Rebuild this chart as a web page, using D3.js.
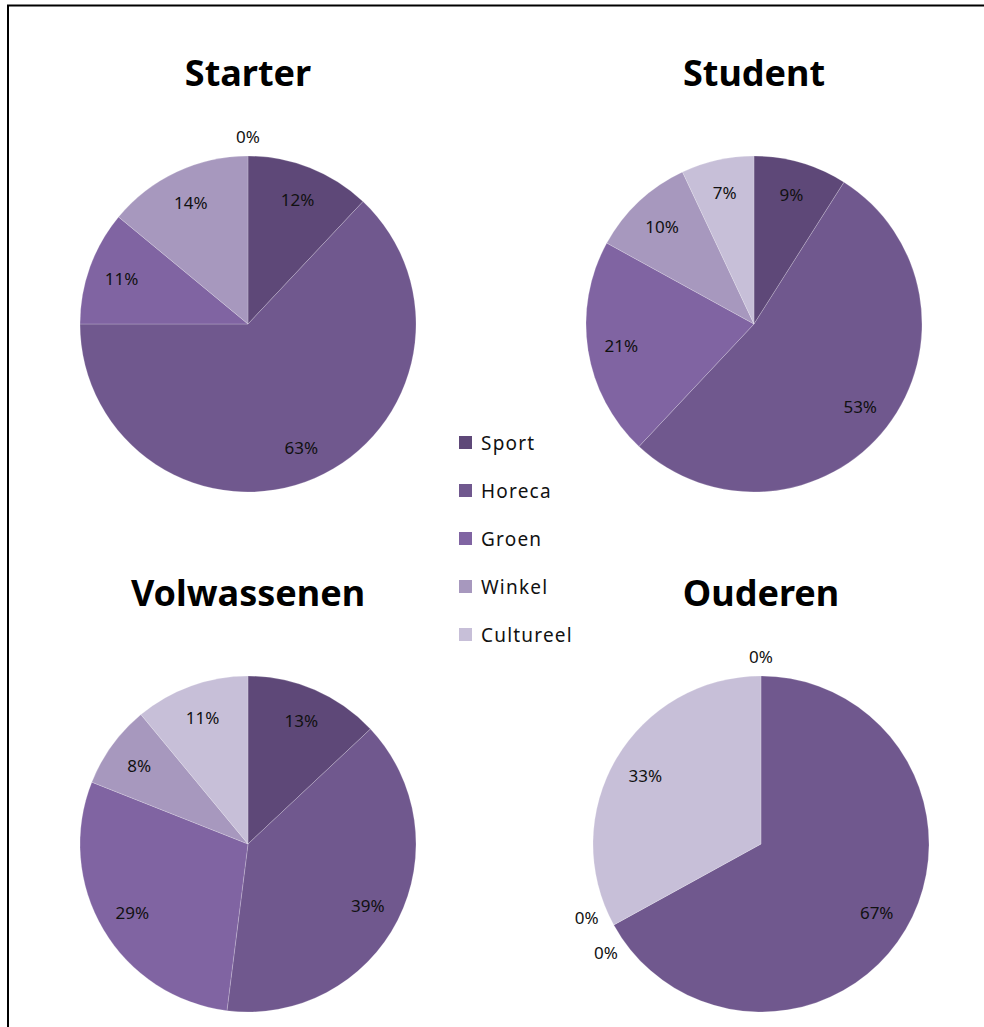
<!DOCTYPE html>
<html>
<head>
<meta charset="utf-8">
<script src="https://cdn.jsdelivr.net/npm/d3@7"></script>
<style>
  body { margin: 0; background: #fff; }
  svg { display: block; }
</style>
</head>
<body>
<svg id="chart"></svg>
<script>
// data (percent per group)
const categories = ["Sport", "Horeca", "Groen", "Winkel", "Cultureel"];
const groups = ["Starter", "Student", "Volwassenen", "Ouderen"];
const starter = [12, 63, 11, 14, 0];
const student = [9, 53, 21, 10, 7];
const volwassenen = [13, 39, 29, 8, 11];
const ouderen = [0, 67, 0, 0, 33];
const palette = ["#5e4878", "#70588e", "#8064a2", "#a798be", "#c7bfd8"];

const width = 984, height = 1027;
const radius = 168;

// pie centres for each panel
const layout = [
    { cx: 248, cy: 324 },
    { cx: 754, cy: 324 },
    { cx: 248, cy: 844 },
    { cx: 761, cy: 844 }
];
const series = [starter, student, volwassenen, ouderen];

const svg = d3.select("#chart")
    .attr("width", width)
    .attr("height", height);

// frame lines (top + left)
svg.append("line")
    .attr("x1", 7).attr("x2", width).attr("y1", 5.5).attr("y2", 5.5)
    .attr("stroke", "#000").attr("stroke-width", 2);
svg.append("line")
    .attr("x1", 8).attr("x2", 8).attr("y1", 5).attr("y2", height)
    .attr("stroke", "#000").attr("stroke-width", 2);

const color = d3.scaleOrdinal().domain(categories).range(palette);

const pie = d3.pie()
    .sort(null)
    .value(d => d.value);

const arc = d3.arc().innerRadius(0).outerRadius(radius);
const labelArc = d3.arc().innerRadius(radius * 0.8).outerRadius(radius * 0.8);

groups.forEach((name, gi) => {
    const pos = layout[gi];
    const data = categories.map((c, i) => ({ cat: c, value: series[gi][i] }));
    const arcs = pie(data);

    const g = svg.append("g")
        .attr("transform", `translate(${pos.cx},${pos.cy})`);

    g.append("text")
        .attr("x", 0)
        .attr("y", -radius - 84)
        .attr("text-anchor", "middle")
        .attr("dominant-baseline", "central")
        .style("font-family", "'Noto Sans', sans-serif")
        .style("font-weight", "bold")
        .style("font-size", "36px")
        .style("fill", "#000")
        .text(name);

    g.selectAll("path.slice")
        .data(arcs.filter(d => d.value > 0))
        .join("path")
        .attr("class", "slice")
        .attr("d", arc)
        .attr("fill", d => color(d.data.cat))
        .attr("stroke", "#fff")
        .attr("stroke-opacity", 0.25)
        .attr("stroke-width", 0.8);

    // zero slices get their label outside, spread along the tangent if stacked
    let zeroSeen = {};
    const labelPos = d => {
        if (d.value > 0) return labelArc.centroid(d);
        const a = d.startAngle;
        const key = a.toFixed(3);
        const n = zeroSeen[key] = (zeroSeen[key] || 0) + 1;
        const dup = arcs.filter(o => o.value === 0 && o.startAngle.toFixed(3) === key).length;
        const rr = radius + 20;
        let x = Math.sin(a) * rr, y = -Math.cos(a) * rr;
        if (dup > 1) {
            const shift = (dup === 2) ? (n === 1 ? 20 : -20) : 0;
            x += Math.cos(a) * shift;
            y += Math.sin(a) * shift;
        }
        return [x, y];
    };

    g.selectAll("text.lbl")
        .data(arcs)
        .join("text")
        .attr("class", "lbl")
        .attr("transform", d => `translate(${labelPos(d)})`)
        .attr("text-anchor", "middle")
        .attr("dominant-baseline", "central")
        .style("font-family", "'Noto Sans', sans-serif")
        .style("font-size", "17px")
        .style("fill", "#111")
        .text(d => d.value + "%");
});

// legend in the middle
const legend = svg.append("g").attr("transform", "translate(459,443)");
const rows = legend.selectAll("g")
    .data(categories)
    .join("g")
    .attr("transform", (d, i) => `translate(0,${i * 48})`);
rows.append("rect")
    .attr("x", 0).attr("y", -7)
    .attr("width", 13).attr("height", 13)
    .attr("fill", d => color(d));
rows.append("text")
    .attr("x", 22)
    .attr("y", 0)
    .attr("dominant-baseline", "central")
    .style("font-family", "'Noto Sans', sans-serif")
    .style("font-size", "19px")
    .style("letter-spacing", "1.2px")
    .style("fill", "#111")
    .text(d => d);
</script>
</body>
</html>
